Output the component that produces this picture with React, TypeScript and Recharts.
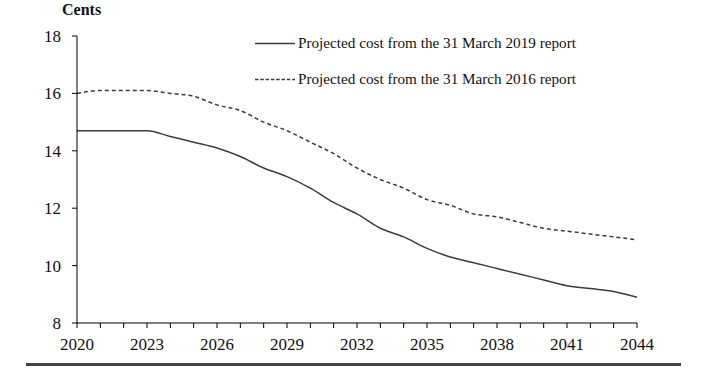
import React from "react";
import { LineChart, Line, XAxis, YAxis } from "recharts";

const years = [
  2020, 2021, 2022, 2023, 2024, 2025, 2026, 2027, 2028, 2029, 2030, 2031, 2032,
  2033, 2034, 2035, 2036, 2037, 2038, 2039, 2040, 2041, 2042, 2043, 2044,
];
const report2019 = [
  14.7, 14.7, 14.7, 14.7, 14.5, 14.3, 14.1, 13.8, 13.4, 13.1, 12.7, 12.2, 11.8,
  11.3, 11.0, 10.6, 10.3, 10.1, 9.9, 9.7, 9.5, 9.3, 9.2, 9.1, 8.9,
];
const report2016 = [
  16.0, 16.1, 16.1, 16.1, 16.0, 15.9, 15.6, 15.4, 15.0, 14.7, 14.3, 13.9, 13.4,
  13.0, 12.7, 12.3, 12.1, 11.8, 11.7, 11.5, 11.3, 11.2, 11.1, 11.0, 10.9,
];
const yTicks = [8, 10, 12, 14, 16, 18];
const seriesNames = [
  "Projected cost from the 31 March 2019 report",
  "Projected cost from the 31 March 2016 report",
];

const data = years.map((year, i) => ({
  year,
  r2019: report2019[i],
  r2016: report2016[i],
}));

const FONT = "Liberation Serif";
const LINE = "#3c3c3c";

function XTick(props: any) {
  const { x, y, payload } = props;
  const v = payload.value as number;
  if ((v - 2020) % 3 !== 0) return null;
  return (
    <text x={x} y={y + 20} textAnchor="middle" fontFamily={FONT} fontSize={17} fill="#111">
      {v}
    </text>
  );
}

function YTick(props: any) {
  const { x, y, payload } = props;
  return (
    <text x={x - 9} y={y + 6} textAnchor="end" fontFamily={FONT} fontSize={17} fill="#111">
      {payload.value}
    </text>
  );
}

function LegendBox() {
  const rows = [
    { name: seriesNames[0], dash: undefined, top: 34 },
    { name: seriesNames[1], dash: "3.5 1.8", top: 70 },
  ];
  return (
    <>
      {rows.map((r) => (
        <div
          key={r.name}
          style={{
            position: "absolute",
            left: 255,
            top: r.top,
            display: "flex",
            alignItems: "center",
            fontFamily: FONT,
            fontSize: 15.2,
            color: "#111",
            whiteSpace: "nowrap",
          }}
        >
          <svg width={40} height={18} style={{ marginRight: 3 }}>
            <line x1={0} y1={9.5} x2={40} y2={9.5} stroke={LINE} strokeWidth={1.5} strokeDasharray={r.dash} />
          </svg>
          <span>{r.name}</span>
        </div>
      ))}
    </>
  );
}

export default function App() {
  return (
    <div style={{ position: "absolute", left: 0, top: 0, width: 702, height: 374, background: "#fff" }}>
      <div
        style={{
          position: "absolute",
          left: 62,
          top: 1,
          fontFamily: FONT,
          fontWeight: "bold",
          fontSize: 16,
          color: "#111",
        }}
      >
        Cents
      </div>
      <LineChart
        width={702}
        height={374}
        data={data}
        margin={{ top: 36, right: 65, left: 0, bottom: 21 }}
      >
        <XAxis
          dataKey="year"
          type="number"
          domain={[2020, 2044]}
          ticks={years}
          interval={0}
          stroke="#000"
          tickSize={5}
          height={30}
          tick={<XTick />}
        />
        <YAxis
          domain={[8, 18]}
          ticks={yTicks}
          interval={0}
          stroke="#000"
          tickSize={5}
          width={77}
          tick={<YTick />}
        />
        <Line
          type="monotone"
          dataKey="r2019"
          stroke={LINE}
          strokeWidth={1.5}
          dot={false}
          isAnimationActive={false}
        />
        <Line
          type="monotone"
          dataKey="r2016"
          stroke={LINE}
          strokeWidth={1.5}
          strokeDasharray="4 3"
          dot={false}
          isAnimationActive={false}
        />
      </LineChart>
      <LegendBox />
      <div
        style={{
          position: "absolute",
          left: 26,
          top: 363,
          width: 655,
          height: 3,
          background: "#444",
        }}
      />
    </div>
  );
}
